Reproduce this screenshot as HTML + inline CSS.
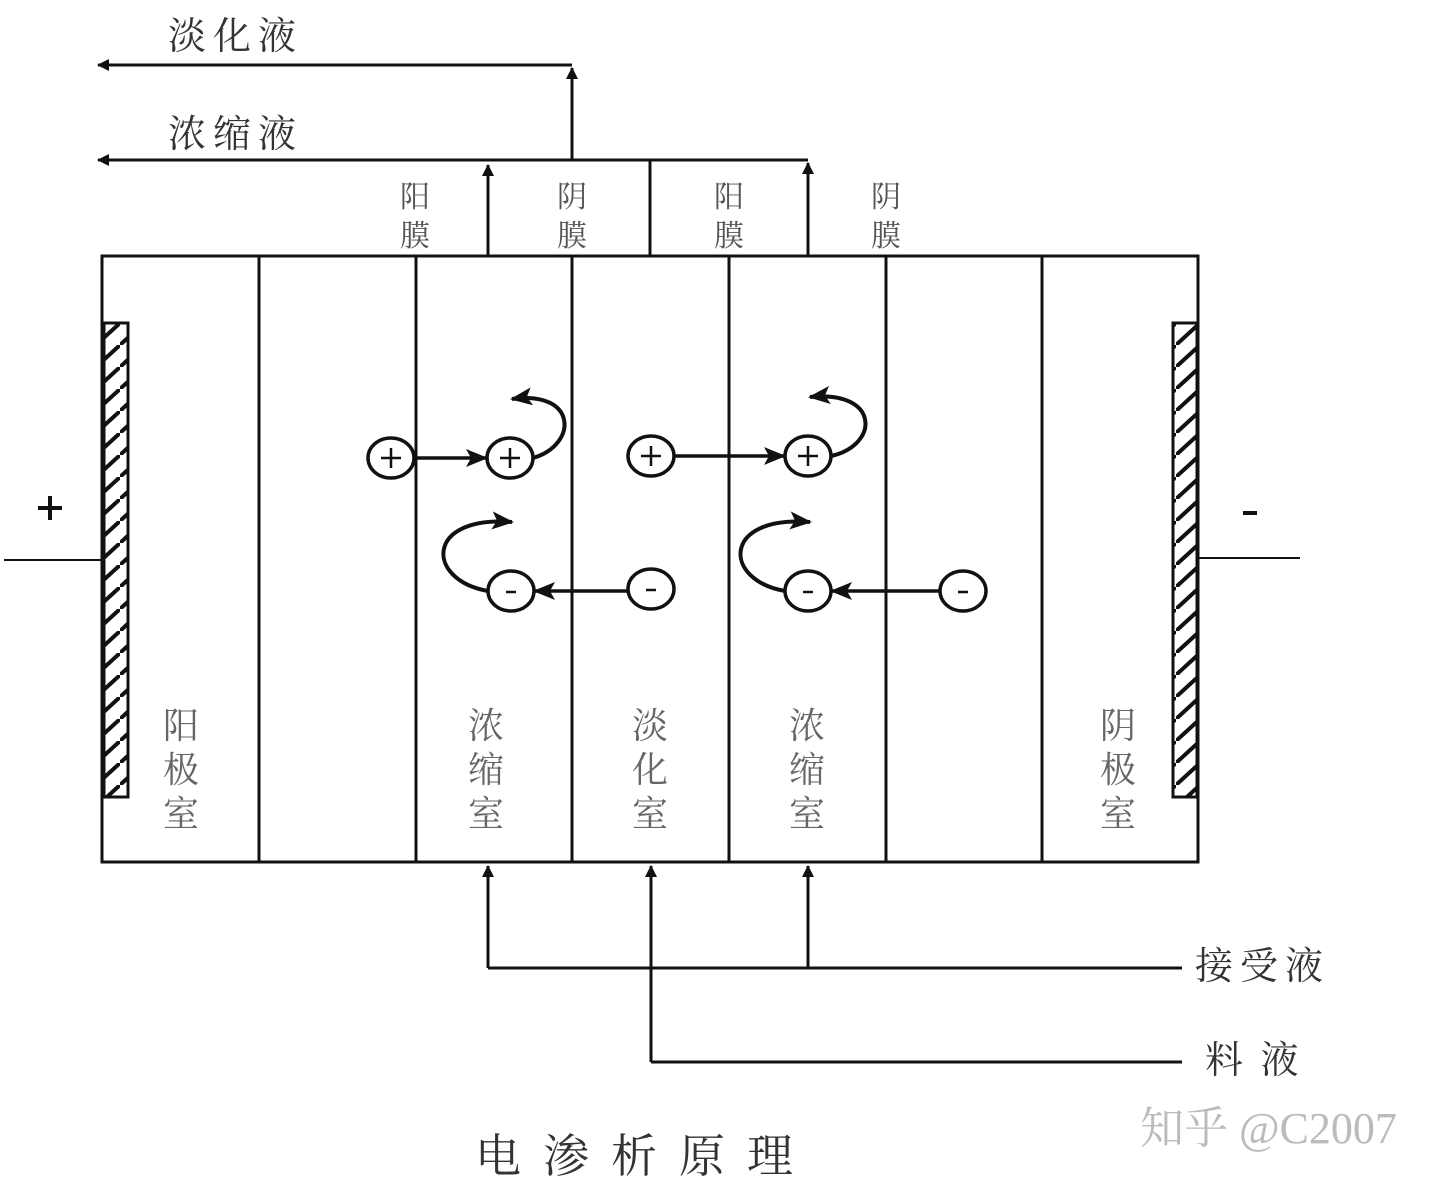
<!DOCTYPE html>
<html><head><meta charset="utf-8"><style>
html,body{margin:0;padding:0;background:#fff;}
svg{display:block}
text{font-family:"Liberation Serif","Noto Serif CJK SC",serif;}
</style></head><body>
<svg width="1440" height="1186" viewBox="0 0 1440 1186" xmlns="http://www.w3.org/2000/svg">
<defs>
<marker id="ah" markerWidth="12" markerHeight="12" refX="11" refY="6" orient="auto" markerUnits="userSpaceOnUse">
<path d="M0,0 L12,6 L0,12 z" fill="#111"/></marker>
<marker id="ahb" markerWidth="22" markerHeight="18" refX="20" refY="9" orient="auto" markerUnits="userSpaceOnUse">
<path d="M0,0 L22,9 L0,18 L5,9 z" fill="#111"/></marker>
<pattern id="hatch" width="24" height="22" patternUnits="userSpaceOnUse" patternTransform="translate(0,323)">
<line x1="0" y1="22" x2="24" y2="0" stroke="#111" stroke-width="4"/>
</pattern>
</defs>
<g stroke="#111" fill="none" stroke-width="3">
<rect x="102" y="256" width="1096" height="606"/>
<line x1="259" y1="256" x2="259" y2="862"/>
<line x1="416" y1="256" x2="416" y2="862"/>
<line x1="572" y1="256" x2="572" y2="862"/>
<line x1="729" y1="256" x2="729" y2="862"/>
<line x1="886" y1="256" x2="886" y2="862"/>
<line x1="1042" y1="256" x2="1042" y2="862"/>
</g>
<rect x="104" y="323" width="24" height="474" fill="url(#hatch)" stroke="#111" stroke-width="3"/>
<rect x="1173" y="323" width="24" height="474" fill="url(#hatch)" stroke="#111" stroke-width="3"/>
<g stroke="#111" stroke-width="2" fill="none">
<line x1="4" y1="560" x2="102" y2="560"/>
<line x1="1198" y1="558" x2="1300" y2="558"/>
</g>
<g stroke="#111" stroke-width="3" fill="none">
<line x1="572" y1="160" x2="572" y2="68" marker-end="url(#ah)"/>
<line x1="572" y1="65" x2="98" y2="65" marker-end="url(#ah)"/>
<line x1="808" y1="160" x2="98" y2="160" marker-end="url(#ah)"/>
<line x1="650" y1="256" x2="650" y2="160"/>
<line x1="488" y1="256" x2="488" y2="165" marker-end="url(#ah)"/>
<line x1="808" y1="256" x2="808" y2="163" marker-end="url(#ah)"/>
<line x1="488" y1="968" x2="488" y2="866" marker-end="url(#ah)"/>
<line x1="808" y1="968" x2="808" y2="866" marker-end="url(#ah)"/>
<line x1="651" y1="1062" x2="651" y2="866" marker-end="url(#ah)"/>
<line x1="488" y1="968" x2="1182" y2="968"/>
<line x1="651" y1="1062" x2="1182" y2="1062"/>
</g>
<g stroke="#111" stroke-width="3.5" fill="none">
<ellipse cx="391" cy="458" rx="23" ry="20"/>
<ellipse cx="510" cy="458" rx="23" ry="20"/>
<ellipse cx="651" cy="456" rx="23" ry="20"/>
<ellipse cx="808" cy="456" rx="23" ry="20"/>
<ellipse cx="511" cy="591" rx="23" ry="20"/>
<ellipse cx="651" cy="589" rx="23" ry="20"/>
<ellipse cx="808" cy="591" rx="23" ry="20"/>
<ellipse cx="963" cy="591" rx="23" ry="20"/>
<line x1="414" y1="458" x2="486" y2="458" marker-end="url(#ahb)"/>
<line x1="674" y1="456" x2="784" y2="456" marker-end="url(#ahb)"/>
<line x1="628" y1="591" x2="535" y2="591" marker-end="url(#ahb)"/>
<line x1="940" y1="591" x2="832" y2="591" marker-end="url(#ahb)"/>
</g>
<g stroke="#111" stroke-width="4" fill="none">
<path d="M533,458 C578,445 578,390 512,399" marker-end="url(#ahb)"/>
<path d="M831,456 C880,445 880,390 810,397" marker-end="url(#ahb)"/>
<path d="M488,591 C425,580 425,515 512,522" marker-end="url(#ahb)"/>
<path d="M785,591 C722,580 722,515 810,522" marker-end="url(#ahb)"/>
</g>
<g stroke="#111" stroke-width="2.5">
<line x1="381" y1="458" x2="401" y2="458"/><line x1="391" y1="448" x2="391" y2="468"/>
<line x1="500" y1="458" x2="520" y2="458"/><line x1="510" y1="448" x2="510" y2="468"/>
<line x1="641" y1="456" x2="661" y2="456"/><line x1="651" y1="446" x2="651" y2="466"/>
<line x1="798" y1="456" x2="818" y2="456"/><line x1="808" y1="446" x2="808" y2="466"/>
<line x1="506" y1="592" x2="516" y2="592"/>
<line x1="646" y1="590" x2="656" y2="590"/>
<line x1="803" y1="592" x2="813" y2="592"/>
<line x1="958" y1="592" x2="968" y2="592"/>
</g>
<g stroke="#111" stroke-width="4">
<line x1="38" y1="508" x2="62" y2="508"/><line x1="50" y1="496" x2="50" y2="520"/>
<line x1="1243" y1="513" x2="1257" y2="513"/>
</g>
<g font-size="38" fill="#333">
<text x="168" y="49" letter-spacing="7">淡化液</text>
<text x="168" y="147" letter-spacing="7">浓缩液</text>
<text x="1195" y="979" letter-spacing="7">接受液</text>
<text x="1205" y="1073" letter-spacing="4">料  液</text>
</g>
<g font-size="30" fill="#555" text-anchor="middle">
<text x="415" y="207">阳</text><text x="415" y="246">膜</text>
<text x="572" y="207">阴</text><text x="572" y="246">膜</text>
<text x="729" y="207">阳</text><text x="729" y="246">膜</text>
<text x="886" y="207">阴</text><text x="886" y="246">膜</text>
</g>
<g font-size="36" fill="#666" text-anchor="middle">
<text x="181" y="738">阳</text><text x="181" y="782">极</text><text x="181" y="826">室</text>
<text x="486" y="738">浓</text><text x="486" y="782">缩</text><text x="486" y="826">室</text>
<text x="650" y="738">淡</text><text x="650" y="782">化</text><text x="650" y="826">室</text>
<text x="807" y="738">浓</text><text x="807" y="782">缩</text><text x="807" y="826">室</text>
<text x="1118" y="738">阴</text><text x="1118" y="782">极</text><text x="1118" y="826">室</text>
</g>
<text x="475" y="1172" font-size="46" fill="#333" letter-spacing="22">电渗析原理</text>
<text x="1140" y="1143" font-size="44" fill="#bbb" font-family="Liberation Sans,Noto Sans CJK SC,sans-serif">知乎 @C2007</text>
</svg>
</body></html>
